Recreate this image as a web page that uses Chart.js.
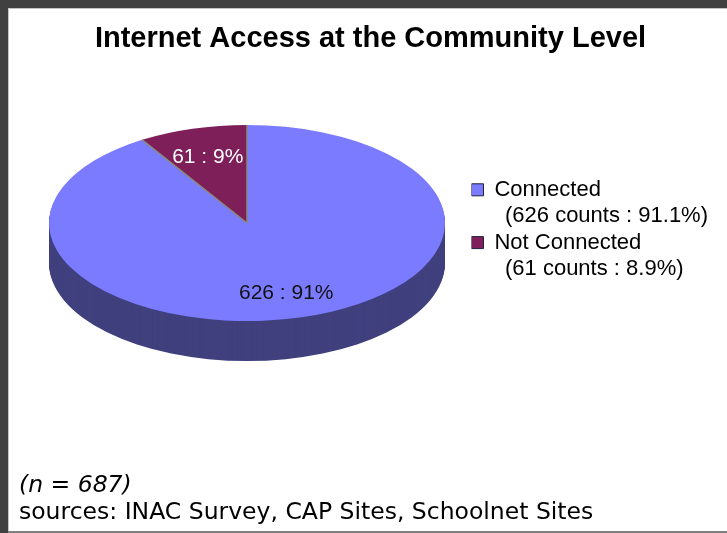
<!DOCTYPE html>
<html>
<head>
<meta charset="utf-8">
<script src="https://cdn.jsdelivr.net/npm/chart.js@4.4.1/dist/chart.umd.min.js"></script>
<style>
  html, body { margin: 0; padding: 0; background: #ffffff; }
  #c { display: block; }
</style>
</head>
<body>
<canvas id="c" width="727" height="533"></canvas>
<script>
// ---- data ----
const categories = ['Connected', 'Not Connected'];
const counts = [626, 61];
const titleText = 'Internet Access at the Community Level';
const sourceText = 'sources: INAC Survey, CAP Sites, Schoolnet Sites';

// ---- styles ----
const topColors = ['#7b7bff', '#7f1f5a'];
const sideColors = ['#40407e', '#4a1236'];
const labelColors = ['#111111', '#ffffff'];
const PIE = { cx: 247, cy: 223, squash: 0.495, depth: 40, radius: 198, labelPos: 0.72 };

const total = counts.reduce((a, b) => a + b, 0);
const pct = i => counts[i] / total * 100;

const framePlugin = {
  id: 'frame',
  beforeDraw(chart) {
    const { ctx, width, height } = chart;
    ctx.save();
    ctx.fillStyle = '#ffffff';
    ctx.fillRect(0, 0, width, height);
    ctx.fillStyle = '#404040';
    ctx.fillRect(0, 0, width, 8);
    ctx.fillRect(0, 0, 8, height);
    ctx.fillStyle = '#c4c4c4';
    ctx.fillRect(8, 8, width - 8, 1);
    ctx.fillRect(8, 8, 1, height - 8);
    ctx.fillStyle = '#808080';
    ctx.fillRect(8, height - 2, width - 8, 2);
    ctx.restore();
  }
};

const pie3dPlugin = {
  id: 'pie3d',
  beforeDatasetsDraw(chart) {
    const ctx = chart.ctx;
    const meta = chart.getDatasetMeta(0);
    const a0 = meta.data[0];
    ctx.save();
    // side walls, stacked layers below the top face
    for (let d = PIE.depth; d >= 1; d--) {
      meta.data.forEach((arc, i) => {
        ctx.beginPath();
        ctx.moveTo(PIE.cx, PIE.cy + d);
        ctx.ellipse(PIE.cx, PIE.cy + d, arc.outerRadius, arc.outerRadius * PIE.squash, 0, arc.startAngle, arc.endAngle);
        ctx.closePath();
        ctx.fillStyle = sideColors[i];
        ctx.fill();
      });
    }
    // squash the top face drawn by Chart.js
    ctx.translate(PIE.cx, PIE.cy);
    ctx.scale(1, PIE.squash);
    ctx.translate(-a0.x, -a0.y);
  },
  afterDatasetsDraw(chart) {
    const ctx = chart.ctx;
    ctx.restore();
    const meta = chart.getDatasetMeta(0);
    ctx.save();
    // slice separators
    ctx.strokeStyle = '#8a8a78';
    ctx.lineWidth = 1.5;
    meta.data.forEach(arc => {
      const r = arc.outerRadius;
      ctx.beginPath();
      ctx.moveTo(PIE.cx, PIE.cy);
      ctx.lineTo(PIE.cx + r * Math.cos(arc.startAngle), PIE.cy + r * PIE.squash * Math.sin(arc.startAngle));
      ctx.stroke();
    });
    // slice labels
    ctx.font = '21px "Liberation Sans", Arial, sans-serif';
    ctx.textAlign = 'center';
    ctx.textBaseline = 'middle';
    meta.data.forEach((arc, i) => {
      const mid = (arc.startAngle + arc.endAngle) / 2;
      const r = arc.outerRadius * PIE.labelPos;
      const x = PIE.cx + r * Math.cos(mid);
      const y = PIE.cy + r * PIE.squash * Math.sin(mid) + 2;
      ctx.fillStyle = labelColors[i];
      ctx.fillText(counts[i] + ' : ' + Math.round(pct(i)) + '%', x, y);
    });
    ctx.restore();
  }
};

const footnotePlugin = {
  id: 'footnote',
  afterDraw(chart) {
    const ctx = chart.ctx;
    ctx.save();
    ctx.fillStyle = '#000000';
    ctx.textAlign = 'left';
    ctx.textBaseline = 'alphabetic';
    ctx.font = 'italic 23.5px "DejaVu Sans", Verdana, sans-serif';
    ctx.fillText('(n = ' + total + ')', 19, 492);
    ctx.font = '23.5px "DejaVu Sans", Verdana, sans-serif';
    ctx.fillText(sourceText, 19, 519);
    ctx.restore();
  }
};

new Chart(document.getElementById('c'), {
  type: 'pie',
  data: {
    labels: categories,
    datasets: [{
      data: counts,
      backgroundColor: topColors,
      borderWidth: 0,
      radius: PIE.radius,
      hoverOffset: 0,
      clip: false
    }]
  },
  options: {
    responsive: false,
    devicePixelRatio: 1,
    animation: false,
    events: [],
    rotation: 0,
    layout: { padding: { left: 23, right: 9, top: 0, bottom: 0 } },
    plugins: {
      tooltip: { enabled: false },
      title: {
        display: true,
        text: titleText,
        color: '#000000',
        font: { family: '"Liberation Sans", Arial, sans-serif', size: 29, weight: 'bold', lineHeight: 1.2 },
        padding: { top: 22, bottom: 122 }
      },
      legend: {
        display: true,
        position: 'right',
        align: 'start',
        fullSize: false,
        labels: {
          boxWidth: 12,
          boxHeight: 12,
          padding: 0,
          color: '#000000',
          font: { family: '"Liberation Sans", Arial, sans-serif', size: 22, lineHeight: 1.2 },
          generateLabels() {
            return categories.map((c, i) => ({
              text: [c, '\u2009 (' + counts[i] + ' counts : ' + pct(i).toFixed(1) + '%)'],
              fillStyle: topColors[i],
              strokeStyle: '#202040',
              lineWidth: 1,
              hidden: false,
              index: i,
              datasetIndex: 0
            }));
          }
        }
      }
    }
  },
  plugins: [framePlugin, pie3dPlugin, footnotePlugin]
});
</script>
</body>
</html>
